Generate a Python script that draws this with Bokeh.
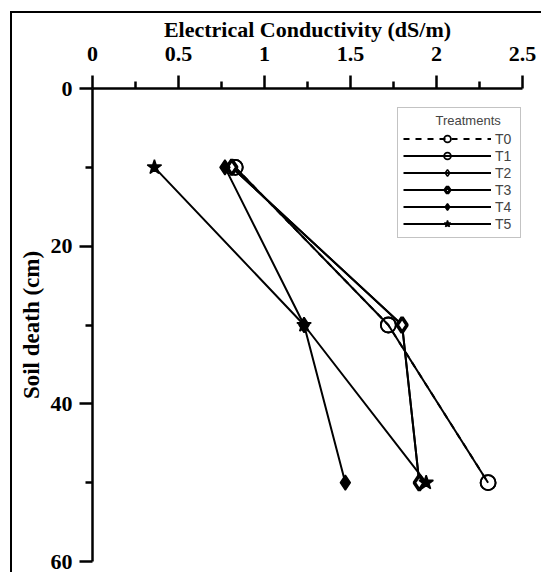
from bokeh.plotting import figure
from bokeh.models import Range1d, Legend, LegendItem, FixedTicker
from bokeh.embed import file_html
from bokeh.resources import INLINE

# ---- data ----
depth = [10, 30, 50]
treatments = ["T0", "T1", "T2", "T3", "T4", "T5"]
T0 = [0.83, 1.72, 2.30]
T1 = [0.83, 1.72, 2.30]
T2 = [0.81, 1.80, 1.90]
T3 = [0.81, 1.80, 1.90]
T4 = [0.77, 1.23, 1.47]
T5 = [0.36, 1.23, 1.94]
series = [T0, T1, T2, T3, T4, T5]
x_ticks = [0, 0.5, 1, 1.5, 2, 2.5]
x_minor = [0.25, 0.75, 1.25, 1.75, 2.25]
y_ticks = [0, 20, 40, 60]
y_minor = [10, 30, 50]

SERIF = "Liberation Serif"
SANS = "Liberation Sans"

p = figure(width=531, height=561, output_backend="svg", toolbar_location=None,
           x_range=Range1d(0, 2.5), y_range=Range1d(60, 0),
           x_axis_location="above", min_border_left=80, min_border_top=69,
           min_border_right=21, min_border_bottom=13)
p.outline_line_color = None
p.xgrid.visible = False
p.ygrid.visible = False
p.background_fill_color = "white"
p.border_fill_color = "white"
p.styles = {"border-left": "2px solid black", "border-top": "2px solid black",
            "margin-left": "10px", "margin-top": "11px"}

for ax in (p.xaxis[0], p.yaxis[0]):
    ax.axis_line_width = 2.5
    ax.major_tick_line_width = 2.5
    ax.minor_tick_line_width = 2.5
    ax.major_tick_in = 0
    ax.major_tick_out = 13
    ax.minor_tick_in = 0
    ax.minor_tick_out = 7
    ax.major_label_text_font = SERIF
    ax.major_label_text_font_style = "bold"
    ax.major_label_text_font_size = "22px"
    ax.major_label_text_color = "black"
    ax.axis_label_text_font = SERIF
    ax.axis_label_text_font_style = "bold"
    ax.axis_label_text_font_size = "22px"
    ax.axis_label_text_color = "black"

p.yaxis[0].axis_label_text_font_size = "23px"
p.xaxis[0].ticker = FixedTicker(ticks=x_ticks, minor_ticks=x_minor)
p.yaxis[0].ticker = FixedTicker(ticks=y_ticks, minor_ticks=y_minor)
p.xaxis[0].major_label_overrides = {0: "0", 0.5: "0.5", 1: "1", 1.5: "1.5", 2: "2", 2.5: "2.5"}
p.xaxis[0].axis_label = "Electrical Conductivity (dS/m)"
p.yaxis[0].axis_label = "Soil death (cm)"
p.xaxis[0].major_label_standoff = 15
p.xaxis[0].axis_label_standoff = 2
p.yaxis[0].major_label_standoff = 7
p.yaxis[0].axis_label_standoff = 4

styles = [
    dict(marker="circle", dash="6 6", fill=None, lw=1.8),
    dict(marker="circle", dash="solid", fill=None, lw=1.8),
    dict(marker="diamond", dash="solid", fill=None, lw=1.5),
    dict(marker="diamond", dash="solid", fill="white", lw=3.5),
    dict(marker="diamond", dash="solid", fill="black", lw=1.5),
    dict(marker="star", dash="solid", fill="black", lw=1.5),
]

items = []
for name, vals, st in zip(treatments, series, styles):
    ln = p.line(vals, depth, line_color="black", line_width=2, line_dash=st["dash"])
    if st["fill"] is None:
        sc = p.scatter(vals, depth, marker=st["marker"], size=15, line_color="black",
                       line_width=st["lw"], fill_alpha=0)
    else:
        sc = p.scatter(vals, depth, marker=st["marker"], size=15, line_color="black",
                       line_width=st["lw"], fill_color=st["fill"])
    items.append(LegendItem(label=name, renderers=[ln, sc]))

legend = Legend(items=items, location=(305, 323),
                title="\u00a0\u00a0\u00a0\u00a0\u00a0\u00a0\u00a0\u00a0\u00a0Treatments",
                title_text_font=SANS, title_text_font_size="13px",
                title_text_font_style="normal", title_standoff=2,
                label_text_font=SANS, label_text_font_size="14px",
                glyph_width=88, glyph_height=17, label_height=17, label_width=20,
                spacing=0, padding=5, margin=0,
                border_line_color="#888888", border_line_width=1,
                background_fill_color="white", background_fill_alpha=1,
                label_standoff=4)
p.add_layout(legend, "center")

open("out.html", "w").write(file_html(p, INLINE))
